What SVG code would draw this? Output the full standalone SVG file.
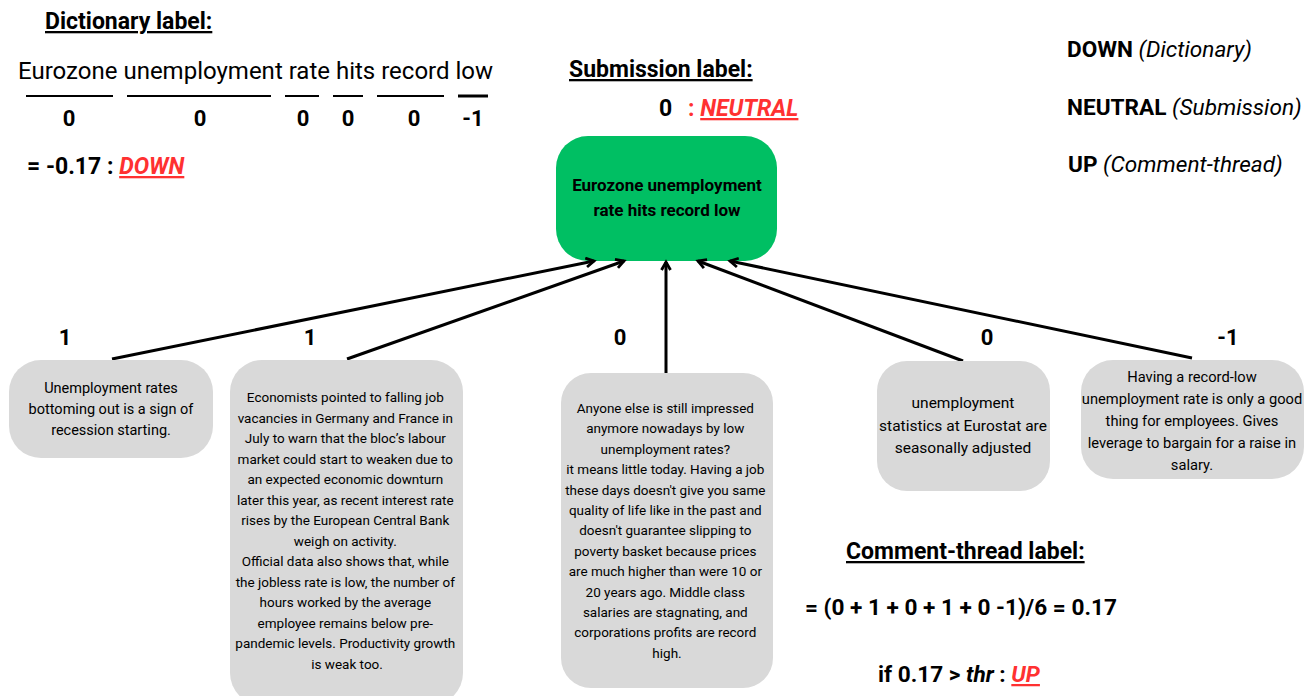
<svg xmlns="http://www.w3.org/2000/svg" width="1305" height="696" viewBox="0 0 1305 696">
<style>
text{font-family:Roboto,"Liberation Sans",sans-serif;fill:#000}
.b{font-weight:bold}
.i{font-style:italic}
.u{text-decoration:underline}
.red{fill:#FF3131}
.t135{font-size:13.5px}
.lab{font-size:22px;font-weight:bold}
.box{fill:#D9D9D9}
.c{text-anchor:middle}
.conn{stroke:#000;stroke-width:3;fill:none}
</style>
<defs>
<marker id="ah" markerWidth="12" markerHeight="12" refX="9" refY="6" orient="auto" markerUnits="userSpaceOnUse">
<path d="M1,1.5 L9,6 L1,10.5" fill="none" stroke="#000" stroke-width="2.8"/>
</marker>
</defs>
<rect width="1305" height="696" fill="#fff"/>

<g id="dictionary">
<text x="45" y="29" class="b u" font-size="23">Dictionary label:</text>
<text x="18" y="79" font-size="24">Eurozone unemployment rate hits record low</text>
<g stroke="#000" stroke-width="2">
<line x1="26" y1="96" x2="113" y2="96"/>
<line x1="127" y1="96" x2="271" y2="96"/>
<line x1="285" y1="96" x2="319" y2="96"/>
<line x1="333" y1="96" x2="363" y2="96"/>
<line x1="377" y1="96" x2="444" y2="96"/>
<line x1="458" y1="96" x2="488" y2="96" stroke-width="3"/>
</g>
<g class="b c" font-size="22">
<text x="69" y="126">0</text>
<text x="200" y="126">0</text>
<text x="303" y="126">0</text>
<text x="348" y="126">0</text>
<text x="414" y="126">0</text>
<text x="473" y="126">-1</text>
</g>
<text x="27" y="174" class="b" font-size="23">= -0.17 : <tspan class="red i u">DOWN</tspan></text>
</g>

<g id="submission">
<text x="569" y="77" class="b u" font-size="23">Submission label:</text>
<text x="659" y="116" class="b" font-size="23">0</text>
<text x="688" y="116" class="b red" font-size="23">: <tspan class="i u">NEUTRAL</tspan></text>
</g>

<g id="legend">
<text x="1067" y="57" font-size="22.6"><tspan class="b">DOWN</tspan> <tspan class="i">(Dictionary)</tspan></text>
<text x="1067" y="115" font-size="22.6"><tspan class="b">NEUTRAL</tspan> <tspan class="i">(Submission)</tspan></text>
<text x="1068" y="172" font-size="22.6"><tspan class="b">UP</tspan> <tspan class="i">(Comment-thread)</tspan></text>
</g>

<g id="root">
<rect x="556" y="136" width="221" height="125" rx="32" fill="#00BF63"/>
<text class="b c" font-size="17"><tspan x="667" y="191">Eurozone unemployment</tspan><tspan x="667" y="216">rate hits record low</tspan></text>
</g>

<g id="connectors">
<line class="conn" x1="112" y1="359" x2="594" y2="261" marker-end="url(#ah)"/>
<line class="conn" x1="347" y1="359" x2="624" y2="261" marker-end="url(#ah)"/>
<line class="conn" x1="666" y1="373" x2="666" y2="262" stroke-width="2.5" marker-end="url(#ah)"/>
<line class="conn" x1="963" y1="361" x2="698" y2="261" marker-end="url(#ah)"/>
<line class="conn" x1="1192" y1="358" x2="730" y2="261" marker-end="url(#ah)"/>
<g class="lab c">
<text x="65" y="345">1</text>
<text x="310" y="345">1</text>
<text x="620" y="345">0</text>
<text x="987" y="345">0</text>
<text x="1228" y="345">-1</text>
</g>
</g>

<g id="comment1">
<rect class="box" x="9" y="360" width="204" height="98" rx="32"/>
<text class="c" font-size="14.5"><tspan x="111" y="393">Unemployment rates</tspan><tspan x="111" y="414">bottoming out is a sign of</tspan><tspan x="111" y="435">recession starting.</tspan></text>
</g>

<g id="comment2">
<rect class="box" x="230" y="360" width="233" height="345" rx="32"/>
<text class="t135 c">
<tspan x="347" y="402">Economists pointed to falling job</tspan>
<tspan x="347" y="422.5">vacancies in Germany and France in</tspan>
<tspan x="347" y="443">July to warn that the bloc’s labour</tspan>
<tspan x="347" y="463.5">market could start to weaken due to</tspan>
<tspan x="347" y="484">an expected economic downturn</tspan>
<tspan x="347" y="504.5">later this year, as recent interest rate</tspan>
<tspan x="347" y="525">rises by the European Central Bank</tspan>
<tspan x="347" y="545.5">weigh on activity.</tspan>
<tspan x="347" y="566">Official data also shows that, while</tspan>
<tspan x="347" y="586.5">the jobless rate is low, the number of</tspan>
<tspan x="347" y="607">hours worked by the average</tspan>
<tspan x="347" y="627.5">employee remains below pre-</tspan>
<tspan x="347" y="648">pandemic levels. Productivity growth</tspan>
<tspan x="347" y="668.5">is weak too.</tspan>
</text>
</g>

<g id="comment3">
<rect class="box" x="561" y="373" width="212" height="315" rx="30"/>
<text class="t135 c">
<tspan x="667" y="413">Anyone else is still impressed</tspan>
<tspan x="667" y="433.4">anymore nowadays by low</tspan>
<tspan x="667" y="453.8">unemployment rates?</tspan>
<tspan x="667" y="474.2"> it means little today. Having a job</tspan>
<tspan x="667" y="494.6">these days doesn't give you same</tspan>
<tspan x="667" y="515">quality of life like in the past and</tspan>
<tspan x="667" y="535.4">doesn't guarantee slipping to</tspan>
<tspan x="667" y="555.8">poverty basket because prices</tspan>
<tspan x="667" y="576.2">are much higher than were 10 or</tspan>
<tspan x="667" y="596.6">20 years ago. Middle class</tspan>
<tspan x="667" y="617">salaries are stagnating, and</tspan>
<tspan x="667" y="637.4">corporations profits are record</tspan>
<tspan x="667" y="657.8">high.</tspan>
</text>
</g>

<g id="comment4">
<rect class="box" x="877" y="361" width="173" height="130" rx="30"/>
<text class="c" font-size="15.5"><tspan x="963" y="408">unemployment</tspan><tspan x="963" y="431">statistics at Eurostat are</tspan><tspan x="963" y="453">seasonally adjusted</tspan></text>
</g>

<g id="comment5">
<rect class="box" x="1081" y="360" width="223" height="119" rx="32"/>
<text class="c" font-size="14.7"><tspan x="1192" y="382">Having a record-low</tspan><tspan x="1192" y="404">unemployment rate is only a good</tspan><tspan x="1192" y="426">thing for employees. Gives</tspan><tspan x="1192" y="448">leverage to bargain for a raise in</tspan><tspan x="1192" y="470">salary.</tspan></text>
</g>

<g id="commentthread">
<text x="846" y="559" class="b u" font-size="23">Comment-thread label:</text>
<text x="805" y="615" class="b" font-size="22.6">= (0 + 1 + 0 + 1 + 0 -1)/6 = 0.17</text>
<text x="878" y="682" class="b" font-size="22.6">if 0.17 &gt; <tspan class="i">thr</tspan> : <tspan class="red i u">UP</tspan></text>
</g>
</svg>
